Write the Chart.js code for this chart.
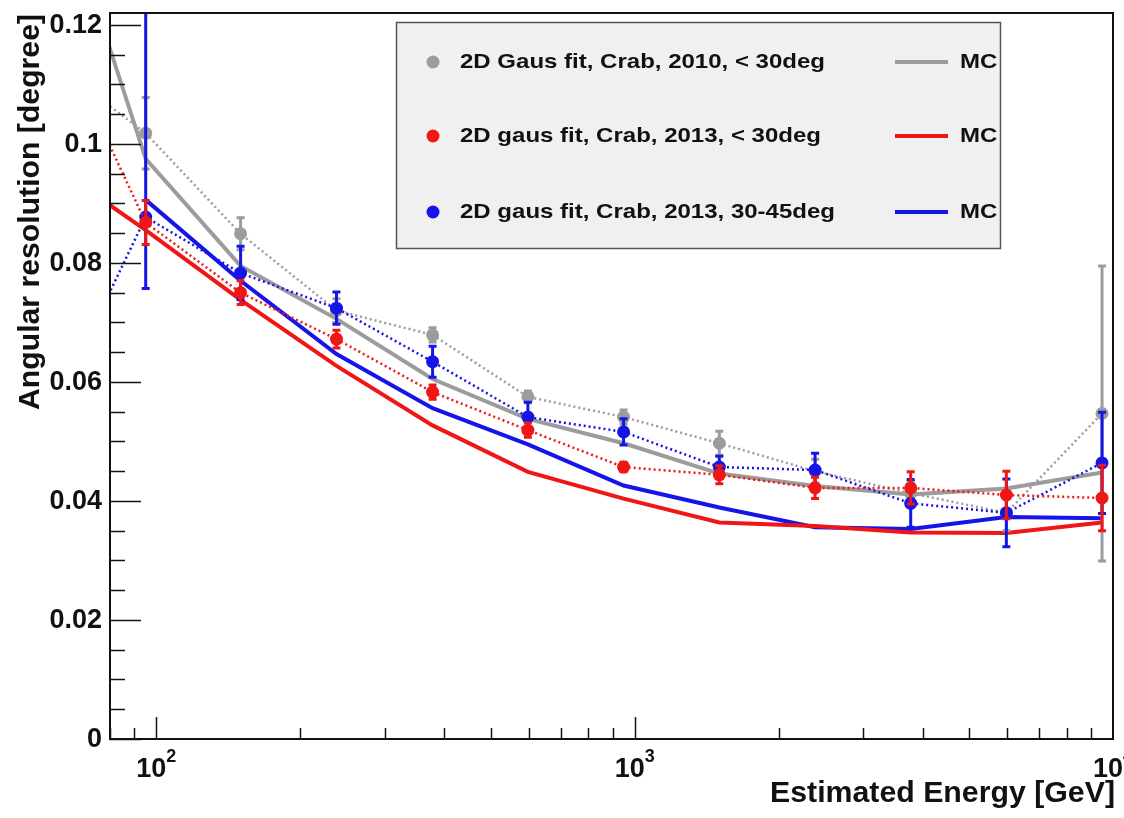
<!DOCTYPE html>
<html>
<head>
<meta charset="utf-8">
<script src="https://cdn.jsdelivr.net/npm/chart.js@4/dist/chart.umd.min.js"></script>
<style>
html, body { margin: 0; padding: 0; background: #fff; }
</style>
</head>
<body>
<canvas id="resPlot" width="1124" height="818"></canvas>
<script>
// energy bins [GeV]; the first one sits left of the axis range, only its line piece shows
var energy = [60, 95, 150, 238, 378, 598, 948, 1503, 2383, 3776, 5985, 9486];

var gray2010 = [0.1139, 0.1018, 0.0849, 0.0720, 0.0679, 0.0575, 0.0541, 0.0497, 0.0450, 0.0413, 0.0380, 0.0547];
var gray2010Err = [null, 0.0060, 0.0027, 0.0020, 0.0012, 0.0010, 0.0012, 0.0020, 0.0020, 0.0020, 0.0030, 0.0248];

var red2013 = [0.1211, 0.0868, 0.0750, 0.0672, 0.0583, 0.0519, 0.0457, 0.0444, 0.0422, 0.0422, 0.0410, 0.0405];
var red2013Err = [null, 0.0037, 0.0020, 0.0015, 0.0012, 0.0012, 0.0008, 0.0015, 0.0018, 0.0027, 0.0040, 0.0055];

var blue2013 = [0.0542, 0.0877, 0.0783, 0.0724, 0.0634, 0.0541, 0.0516, 0.0457, 0.0452, 0.0396, 0.0380, 0.0464];
var blue2013ErrLo = [null, 0.0120, 0.0045, 0.0027, 0.0026, 0.0025, 0.0022, 0.0018, 0.0028, 0.0040, 0.0057, 0.0085];
var blue2013ErrHi = [null, 0.0450, 0.0045, 0.0027, 0.0026, 0.0025, 0.0022, 0.0018, 0.0028, 0.0040, 0.0057, 0.0085];

var mcGray = [0.1469, 0.0975, 0.0795, 0.0706, 0.0605, 0.0538, 0.0497, 0.0446, 0.0425, 0.0411, 0.0421, 0.0448];
var mcRed = [0.0967, 0.0855, 0.0738, 0.0627, 0.0527, 0.0449, 0.0404, 0.0364, 0.0358, 0.0347, 0.0346, 0.0364];
var mcBlue = [null, 0.0906, 0.0770, 0.0647, 0.0556, 0.0495, 0.0426, 0.0389, 0.0356, 0.0353, 0.0373, 0.0371];

var yTicks = [0, 0.02, 0.04, 0.06, 0.08, 0.1, 0.12];
var yTickLabels = ['0', '0.02', '0.04', '0.06', '0.08', '0.1', '0.12'];
var xDecades = [100, 1000, 10000];
var xDecadeExp = ['2', '3', '4'];

var legendLabels = ['2D Gaus fit, Crab, 2010, < 30deg', '2D gaus fit, Crab, 2013, < 30deg', '2D gaus fit, Crab, 2013, 30-45deg'];

var GRAY = '#9c9c9c', RED = '#f01616', BLUE = '#1515e8';
var FONT = '"Liberation Sans", Arial, Helvetica, sans-serif';

function pts(vals) {
  return energy.map(function(e, i) { return { x: e, y: vals[i] }; });
}

function dataSet(label, vals, lo, hi, color) {
  return {
    label: label,
    data: pts(vals),
    errLo: lo,
    errHi: hi,
    borderColor: color,
    backgroundColor: color,
    borderWidth: 2.5,
    borderDash: [2, 3],
    pointRadius: 6.5,
    pointBorderWidth: 0,
    pointBackgroundColor: color,
    tension: 0
  };
}

function mcSet(vals, color) {
  return {
    label: 'MC',
    data: pts(vals),
    borderColor: color,
    borderWidth: 4,
    pointRadius: 0,
    spanGaps: false,
    tension: 0
  };
}

function txt(ctx, s, x, y, size, align, stretch) {
  ctx.save();
  ctx.font = 'bold ' + size + 'px ' + FONT;
  ctx.translate(x, y);
  ctx.scale(stretch || 1, 1);
  ctx.textAlign = align;
  ctx.textBaseline = 'middle';
  ctx.fillStyle = '#111';
  ctx.fillText(s, 0, 0);
  ctx.restore();
}

function fitStretch(ctx, s, size, width) {
  ctx.font = 'bold ' + size + 'px ' + FONT;
  return width / ctx.measureText(s).width;
}

// error bars drawn with each dataset so the layering follows the datasets
var errorBars = {
  id: 'errorBars',
  afterDatasetDraw: function(chart, args) {
    var ds = chart.data.datasets[args.index];
    if (!ds.errLo) return;
    var ctx = chart.ctx, xs = chart.scales.x, ys = chart.scales.y, a = chart.chartArea;
    ctx.save();
    ctx.beginPath();
    ctx.rect(a.left, a.top, a.right - a.left, a.bottom - a.top);
    ctx.clip();
    ctx.strokeStyle = ds.borderColor;
    ctx.lineWidth = 3;
    ds.data.forEach(function(p, i) {
      if (ds.errLo[i] == null) return;
      var px = xs.getPixelForValue(p.x);
      var y1 = ys.getPixelForValue(p.y - ds.errLo[i]);
      var y2 = ys.getPixelForValue(p.y + ds.errHi[i]);
      ctx.beginPath();
      ctx.moveTo(px, y1); ctx.lineTo(px, y2);
      ctx.moveTo(px - 4, y1); ctx.lineTo(px + 4, y1);
      ctx.moveTo(px - 4, y2); ctx.lineTo(px + 4, y2);
      ctx.stroke();
    });
    ctx.restore();
  }
};

// ROOT-like frame: inside ticks, labels, titles and the boxed legend
var frame = {
  id: 'frame',
  afterDraw: function(chart) {
    var ctx = chart.ctx, xs = chart.scales.x, ys = chart.scales.y, a = chart.chartArea;
    ctx.save();
    ctx.strokeStyle = '#111';
    ctx.lineWidth = 2;
    ctx.strokeRect(a.left, a.top, a.right - a.left, a.bottom - a.top);

    // y ticks
    ctx.lineWidth = 1.5;
    ctx.beginPath();
    for (var v = 0; v <= 0.1221; v += 0.005) {
      var py = Math.round(ys.getPixelForValue(v)) + 0.5;
      var major = Math.abs(v / 0.02 - Math.round(v / 0.02)) < 1e-6;
      ctx.moveTo(a.left, py);
      ctx.lineTo(a.left + (major ? 31 : 15), py);
    }
    // x ticks
    for (var d = 10; d <= 1000; d *= 10) {
      for (var m = 1; m <= 9; m++) {
        var e = d * m;
        if (e < 80 || e > 10000) continue;
        var px = Math.round(xs.getPixelForValue(e)) + 0.5;
        ctx.moveTo(px, a.bottom);
        ctx.lineTo(px, a.bottom - (m === 1 ? 22 : 11));
      }
    }
    ctx.stroke();
    ctx.restore();

    // tick labels
    yTicks.forEach(function(v, i) {
      txt(ctx, yTickLabels[i], 102, ys.getPixelForValue(v) + 1, 27, 'right');
    });
    xDecades.forEach(function(e, i) {
      ctx.font = 'bold 27px ' + FONT;
      var w1 = ctx.measureText('10').width;
      ctx.font = 'bold 18px ' + FONT;
      var w2 = ctx.measureText(xDecadeExp[i]).width;
      var x0 = xs.getPixelForValue(e) - (w1 + w2) / 2;
      txt(ctx, '10', x0, 770, 27, 'left');
      txt(ctx, xDecadeExp[i], x0 + w1, 757, 18, 'left');
    });

    // axis titles
    var xt = 'Estimated Energy [GeV]';
    txt(ctx, xt, 1115, 794, 29, 'right', fitStretch(ctx, xt, 29, 345));
    var yt = 'Angular resolution [degree]';
    ctx.save();
    ctx.translate(31, 14);
    ctx.rotate(-Math.PI / 2);
    txt(ctx, yt, 0, 0, 29, 'right', fitStretch(ctx, yt, 29, 396));
    ctx.restore();

    // legend
    ctx.save();
    ctx.fillStyle = '#f0f0f0';
    ctx.fillRect(396, 22, 604, 226);
    ctx.strokeStyle = '#555';
    ctx.lineWidth = 1.5;
    ctx.strokeRect(396.5, 22.5, 604, 226);
    ctx.restore();
    var colors = [GRAY, RED, BLUE];
    var rows = [62, 136, 212];
    var sx = fitStretch(ctx, legendLabels[0], 21, 365);
    rows.forEach(function(ry, i) {
      ctx.save();
      ctx.fillStyle = colors[i];
      ctx.beginPath();
      ctx.arc(433, ry, 6.5, 0, Math.PI * 2);
      ctx.fill();
      ctx.strokeStyle = colors[i];
      ctx.lineWidth = 4;
      ctx.beginPath();
      ctx.moveTo(895, ry); ctx.lineTo(948, ry);
      ctx.stroke();
      ctx.restore();
      txt(ctx, legendLabels[i], 460, ry, 21, 'left', sx);
      txt(ctx, 'MC', 960, ry, 21, 'left', sx);
    });
  }
};

var resChart = new Chart(document.getElementById('resPlot'), {
  type: 'line',
  data: {
    datasets: [
      dataSet('2013, < 30deg', red2013, red2013Err, red2013Err, RED),
      dataSet('2013, 30-45deg', blue2013, blue2013ErrLo, blue2013ErrHi, BLUE),
      dataSet('2010, < 30deg', gray2010, gray2010Err, gray2010Err, GRAY),
      mcSet(mcRed, RED),
      mcSet(mcBlue, BLUE),
      mcSet(mcGray, GRAY)
    ]
  },
  options: {
    responsive: false,
    animation: false,
    devicePixelRatio: 1,
    layout: { padding: { left: 110, right: 11, top: 13, bottom: 79 } },
    scales: {
      x: { type: 'logarithmic', min: 80, max: 10000, display: false },
      y: { type: 'linear', min: 0, max: 0.122, display: false }
    },
    plugins: {
      legend: { display: false },
      tooltip: { enabled: false }
    }
  },
  plugins: [errorBars, frame]
});
</script>
</body>
</html>
